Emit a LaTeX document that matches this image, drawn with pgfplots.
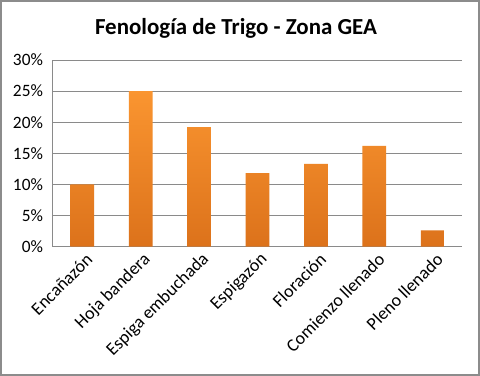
\documentclass[border=0pt]{standalone}
\usepackage{pgfplots}
\pgfplotsset{compat=1.18}
\usepackage{fontspec}
\setmainfont{Carlito}
\definecolor{barTop}{HTML}{FA9530}
\definecolor{barBot}{HTML}{DC721B}
\definecolor{gridc}{HTML}{8A8A8A}
\definecolor{framec}{HTML}{8C8C8C}
\begin{document}
\begin{tikzpicture}
\useasboundingbox (0,0) rectangle (360pt,282pt);
\fill[white] (0,0) rectangle (360pt,282pt);
\draw[framec, line width=1.5pt] (0.75pt,0.75pt) rectangle (359.25pt,281.25pt);
\node[font=\bfseries\fontsize{17.2}{20}\selectfont] at (177pt,261pt) {Fenología de Trigo - Zona GEA};
\begin{axis}[
  at={(39.75pt,97pt)}, anchor=south west,
  scale only axis, width=306.75pt, height=140pt,
  xmin=-0.5, xmax=6.5, ymin=0, ymax=30,
  ytick={0,5,...,30},
  /pgf/number format/assume math mode=true,
  yticklabel={\pgfmathprintnumber{\tick}\%},
  xtick=data,
  xticklabels={Encañazón,Hoja bandera,Espiga embuchada,Espigazón,Floración,Comienzo llenado,Pleno llenado},
  xticklabel style={rotate=45, anchor=east, font=\fontsize{13.5}{15}\selectfont, yshift=-9pt, xshift=2pt},
  yticklabel style={font=\fontsize{13}{15}\selectfont, xshift=-4pt},
  major tick length=0pt,
  ymajorgrids, grid style={gridc, line width=0.75pt},
  axis x line*=bottom, axis y line*=left,
  axis line style={-, gridc, line width=0.75pt},
]
\addplot[ybar, bar width=17.8pt, draw=none, top color=barTop, bottom color=barBot] coordinates {
  (0,10) (1,25) (2,19.2) (3,11.8) (4,13.3) (5,16.2) (6,2.6)
};
\end{axis}
\end{tikzpicture}
\end{document}
